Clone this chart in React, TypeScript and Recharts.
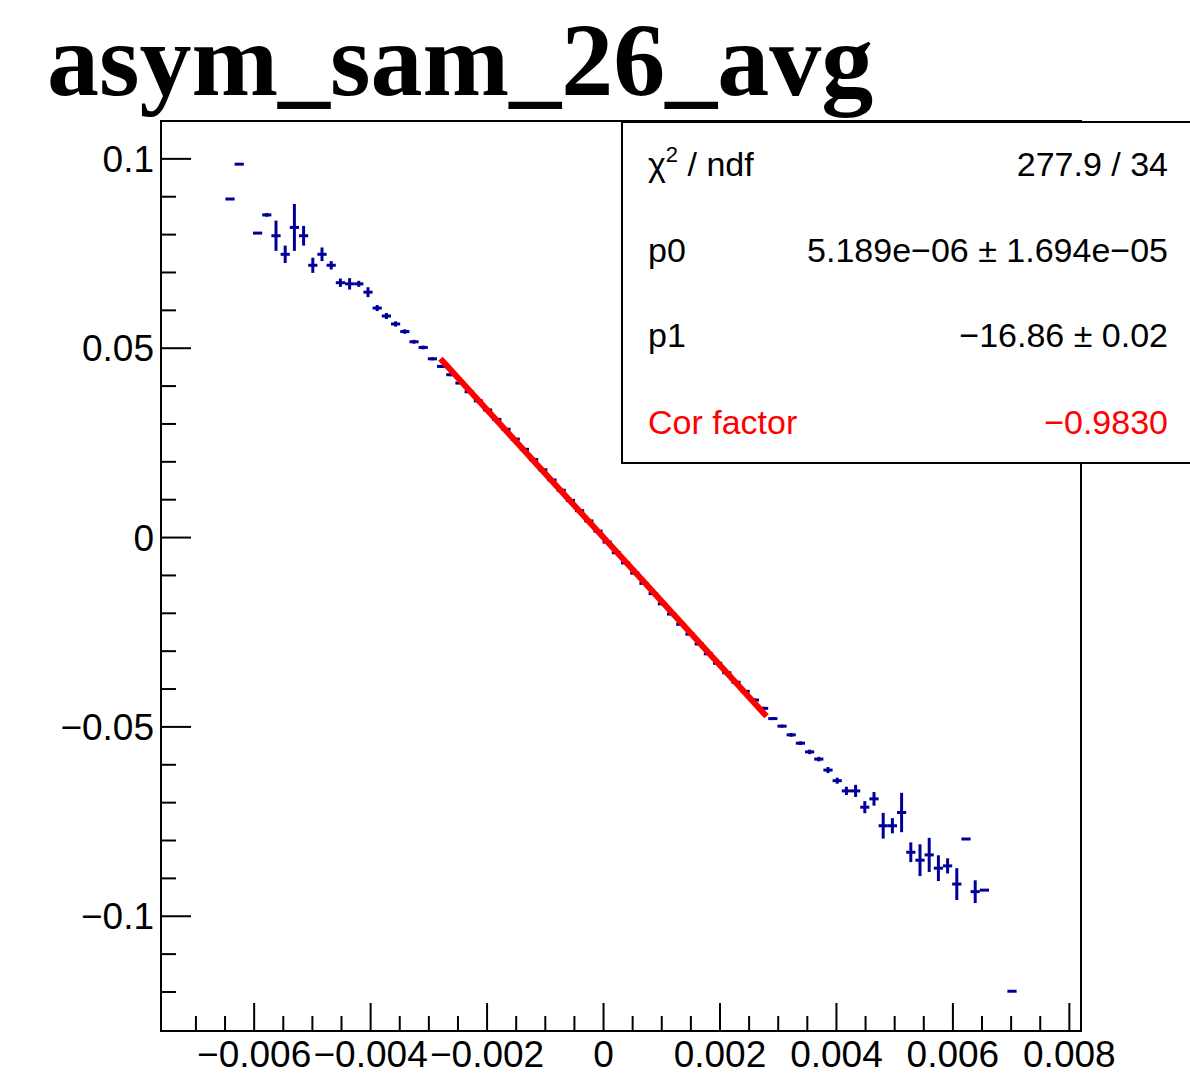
import React from "react";
import { ScatterChart, Scatter, XAxis, YAxis, ErrorBar, ReferenceArea } from "recharts";

// frame range of the pad
const X_MIN = -0.0076;
const X_MAX = 0.0082;
const Y_MIN = -0.1303;
const Y_MAX = 0.11;

// profile bins (centres), half bin width
const BIN_HALF = 0.000079;
const binX = [
  -0.006415, -0.006257, -0.005941, -0.005783, -0.005625, -0.005467, -0.005309, -0.005151, -0.004993,
  -0.004835, -0.004677, -0.004519, -0.004361, -0.004203, -0.004045, -0.003887, -0.003729, -0.003571,
  -0.003413, -0.003255, -0.003097, -0.002939,
  -0.002781, -0.002623, -0.002465, -0.002307, -0.002149, -0.001991, -0.001833, -0.001675, -0.001517,
  -0.001359, -0.001201, -0.001043, -0.000885, -0.000727, -0.000569, -0.000411, -0.000253, -0.000095,
  0.000063, 0.000221, 0.000379, 0.000537, 0.000695, 0.000853, 0.001011, 0.001169, 0.001327, 0.001485,
  0.001643, 0.001801, 0.001959, 0.002117, 0.002275, 0.002433, 0.002591, 0.002749, 0.002907,
  0.003065, 0.003223, 0.003381, 0.003539, 0.003697, 0.003855, 0.004013, 0.004171, 0.004329, 0.004487,
  0.004645, 0.004803, 0.004961, 0.005119, 0.005277, 0.005435, 0.005593, 0.005751, 0.005909, 0.006067,
  0.006225, 0.006383, 0.006541, 0.007015,
];
const valY = [
  0.0894, 0.0986, 0.0804, 0.0852, 0.0797, 0.0748, 0.0819, 0.0797, 0.0719, 0.0748, 0.0719, 0.0673,
  0.067, 0.067, 0.0648, 0.0606, 0.0585, 0.0564, 0.0544, 0.0517, 0.0502, 0.0472,
  0.0452, 0.043, 0.0408, 0.0385, 0.0361, 0.0337, 0.0312, 0.0286, 0.026, 0.0233, 0.0206, 0.0179,
  0.0152, 0.0125, 0.0098, 0.0071, 0.0044, 0.0017, -0.0012, -0.004, -0.0067, -0.0094, -0.0121,
  -0.0148, -0.0175, -0.0202, -0.0229, -0.0255, -0.0281, -0.0307, -0.0332, -0.0357, -0.0382,
  -0.0406, -0.0429, -0.0451, -0.0478,
  -0.0498, -0.0521, -0.0543, -0.0566, -0.0585, -0.0614, -0.0642, -0.0669, -0.0669, -0.0712,
  -0.069, -0.0761, -0.0761, -0.0726, -0.0831, -0.0852, -0.0838, -0.0873, -0.0867, -0.0915,
  -0.0796, -0.0935, -0.0931, -0.1198,
];
const errY = [
  0, 0, 0, 0.0005, 0.004, 0.0023, 0.0062, 0.0026, 0.002, 0.0018, 0.0011, 0.0011, 0.0015, 0.0008,
  0.0013, 0.0008, 0.0008, 0.0007, 0.0006, 0.0005, 0.0005, 0.0004,
  0.0004, 0.0004, 0.0003, 0.0003, 0.0003, 0.0003, 0.0003, 0.0003, 0.0002, 0.0003, 0.0002, 0.0002,
  0.0002, 0.0002, 0.0002, 0.0002, 0.0002, 0.0002, 0.0002, 0.0002, 0.0002, 0.0002, 0.0002, 0.0002,
  0.0002, 0.0002, 0.0003, 0.0002, 0.0003, 0.0003, 0.0003, 0.0003, 0.0003, 0.0003, 0.0004, 0.0004,
  0.0004,
  0.0004, 0.0005, 0.0005, 0.0006, 0.0006, 0.0008, 0.0008, 0.0011, 0.0016, 0.0016, 0.0018, 0.0034,
  0.002, 0.0052, 0.0026, 0.0042, 0.0045, 0.0034, 0.002, 0.0042, 0, 0.003, 0, 0,
];

// pol1 fit drawn over its range
const fitX = [-0.0028, 0.0028];
const fitY = [0.04721, -0.0472];

const xMajor = [-0.006, -0.004, -0.002, 0, 0.002, 0.004, 0.006, 0.008];
const xLabels = ["\u22120.006", "\u22120.004", "\u22120.002", "0", "0.002", "0.004", "0.006", "0.008"];
const xMinor = [
  -0.007, -0.0065, -0.0055, -0.005, -0.0045, -0.0035, -0.003, -0.0025, -0.0015, -0.001, -0.0005,
  0.0005, 0.001, 0.0015, 0.0025, 0.003, 0.0035, 0.0045, 0.005, 0.0055, 0.0065, 0.007, 0.0075,
];
const yMajor = [-0.1, -0.05, 0, 0.05, 0.1];
const yLabels = ["\u22120.1", "\u22120.05", "0", "0.05", "0.1"];
const yMinor = [
  -0.12, -0.11, -0.09, -0.08, -0.07, -0.06, -0.04, -0.03, -0.02, -0.01, 0.01, 0.02, 0.03, 0.04,
  0.06, 0.07, 0.08, 0.09,
];

const statNames = ["p0", "p1"];
const statValues = ["5.189e\u221206 \u00b1 1.694e\u221205", "\u221216.86 \u00b1 0.02"];

const SANS = "'Liberation Sans', Arial, Helvetica, sans-serif";
const BLUE = "#000099";

const points = binX.map((x, i) => ({ x, y: valY[i], ex: BIN_HALF, ey: errY[i] }));
const fitLine = fitX.map((x, i) => ({ x, y: fitY[i] }));

function XTick(props: any) {
  const { x, y, payload } = props;
  const idx = xMajor.indexOf(payload.value);
  const len = idx >= 0 ? 28 : 15;
  return (
    <g>
      <line x1={x} x2={x} y1={y} y2={y - len} stroke="#000" strokeWidth={2} />
      {idx >= 0 && (
        <text x={x} y={y + 36} textAnchor="middle" fontFamily={SANS} fontSize={37} fill="#000">
          {xLabels[idx]}
        </text>
      )}
    </g>
  );
}

function YTick(props: any) {
  const { x, y, payload } = props;
  const idx = yMajor.indexOf(payload.value);
  const len = idx >= 0 ? 30 : 15;
  return (
    <g>
      <line x1={x} x2={x + len} y1={y} y2={y} stroke="#000" strokeWidth={2} />
      {idx >= 0 && (
        <text x={x - 7} y={y + 13} textAnchor="end" fontFamily={SANS} fontSize={37} fill="#000">
          {yLabels[idx]}
        </text>
      )}
    </g>
  );
}

export default function App() {
  return (
    <div style={{ position: "absolute", left: 0, top: 0, width: 1190, height: 1083, overflow: "hidden", background: "#fff" }}>
      <ScatterChart width={1190} height={1083} margin={{ top: 121, left: 101, right: 109, bottom: 22 }}>
        <XAxis
          type="number"
          dataKey="x"
          domain={[X_MIN, X_MAX]}
          allowDataOverflow
          ticks={[...xMajor, ...xMinor]}
          interval={0}
          tick={<XTick />}
          tickLine={false}
          tickSize={0}
          tickMargin={0}
          height={30}
          axisLine={{ stroke: "#000", strokeWidth: 2 }}
        />
        <YAxis
          type="number"
          dataKey="y"
          domain={[Y_MIN, Y_MAX]}
          allowDataOverflow
          ticks={[...yMajor, ...yMinor]}
          interval={0}
          tick={<YTick />}
          tickLine={false}
          tickSize={0}
          tickMargin={0}
          width={60}
          axisLine={{ stroke: "#000", strokeWidth: 2 }}
        />
        <ReferenceArea x1={X_MIN} x2={X_MAX} y1={Y_MIN} y2={Y_MAX} fill="none" stroke="#000" strokeWidth={2} />
        <Scatter data={points} shape={() => <g />} isAnimationActive={false}>
          <ErrorBar dataKey="ex" direction="x" width={0} stroke={BLUE} strokeWidth={3} />
          <ErrorBar dataKey="ey" direction="y" width={0} stroke={BLUE} strokeWidth={3} />
        </Scatter>
        <Scatter
          data={fitLine}
          line={{ stroke: "#ff0000", strokeWidth: 6 }}
          shape={() => <g />}
          isAnimationActive={false}
        />
      </ScatterChart>
      <svg width={1190} height={1083} style={{ position: "absolute", left: 0, top: 0, pointerEvents: "none" }}>
        <text x={47} y={95} fontFamily="'Liberation Serif', 'Times New Roman', serif" fontWeight="bold" fontSize={104} fill="#000">
          asym_sam_26_avg
        </text>
        <rect x={622} y={122} width={600} height={341} fill="#fff" stroke="#000" strokeWidth={2} />
        <text x={648} y={176} fontFamily={SANS} fontSize={34} fill="#000">
          {"\u03c7"}
          <tspan dy={-14} fontSize={22}>2</tspan>
          <tspan dy={14}>{" / ndf"}</tspan>
        </text>
        <text x={1168} y={176} textAnchor="end" fontFamily={SANS} fontSize={34} fill="#000">
          277.9 / 34
        </text>
        {statNames.map((n, i) => (
          <g key={n}>
            <text x={648} y={262 + i * 85} fontFamily={SANS} fontSize={34} fill="#000">
              {n}
            </text>
            <text x={1168} y={262 + i * 85} textAnchor="end" fontFamily={SANS} fontSize={34} fill="#000">
              {statValues[i]}
            </text>
          </g>
        ))}
        <text x={648} y={434} fontFamily={SANS} fontSize={34} fill="#ff0000">
          Cor factor
        </text>
        <text x={1168} y={434} textAnchor="end" fontFamily={SANS} fontSize={34} fill="#ff0000">
          {"\u22120.9830"}
        </text>
      </svg>
    </div>
  );
}
